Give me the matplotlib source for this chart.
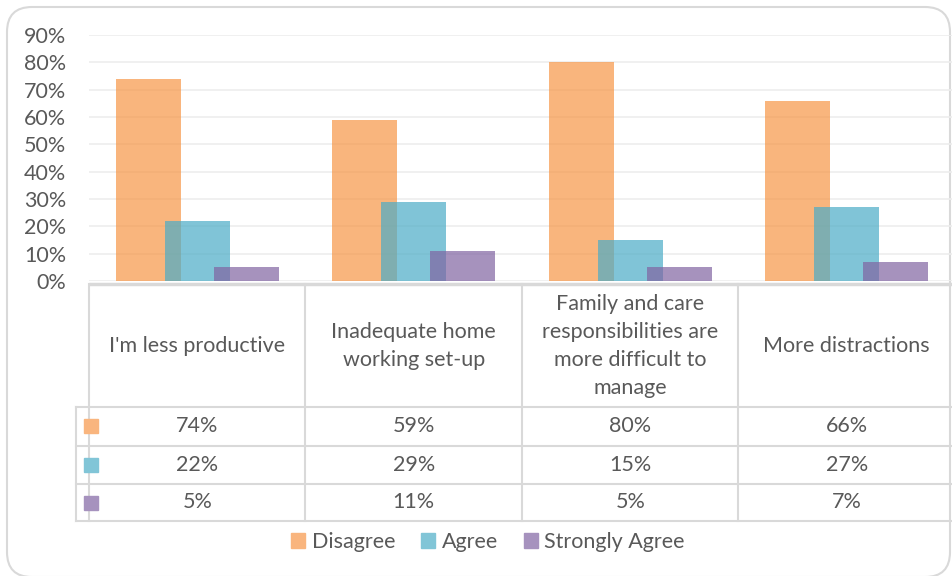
import matplotlib.pyplot as plt
from matplotlib.patches import FancyBboxPatch, Rectangle
import numpy as np

categories = ["I'm less productive", "Inadequate home\nworking set-up",
              "Family and care\nresponsibilities are\nmore difficult to\nmanage",
              "More distractions"]
series = ["Disagree", "Agree", "Strongly Agree"]
disagree = [0.74, 0.59, 0.80, 0.66]
agree = [0.22, 0.29, 0.15, 0.27]
strongly_agree = [0.05, 0.11, 0.05, 0.07]
values = [disagree, agree, strongly_agree]
colors = ["#F79646", "#4BACC6", "#8064A2"]
key_colors = ["#F9B57E", "#81C5D7", "#A692BE"]
yticks = np.arange(0, 1.0, 0.1)

plt.rcParams['font.family'] = ['Lato', 'DejaVu Sans']
text_color = "#595959"
line_color = "#D9D9D9"
fs = 15.5

W, H = 953, 576
fig = plt.figure(figsize=(W / 100, H / 100), dpi=100)

# overlay in pixel coords for the table and border
ov = fig.add_axes([0, 0, 1, 1])
ov.set_xlim(0, W)
ov.set_ylim(H, 0)
ov.axis("off")

# plot area: 0% at y=281, 90% at y=35, x from 89 to 955
left, right, top, bottom = 89, 955, 35, 281
ax = fig.add_axes([left / W, (H - bottom) / H, (right - left) / W, (bottom - top) / H])
ax.set_xlim(0, 4)
ax.set_ylim(0, 0.9)
ax.set_facecolor("none")

x = np.arange(len(categories)) + 0.5
bw = 65 / 216.5
offset = 49 / 216.5
for i, (name, vals) in enumerate(zip(series, values)):
    ax.bar(x + (i - 1) * offset, vals, width=bw, color=colors[i], alpha=0.7,
           label=name, zorder=3 + i)

ax.set_yticks(yticks)
ax.set_yticklabels([f"{int(round(t * 100))}%" for t in yticks], fontsize=fs, color=text_color)
ax.tick_params(axis="y", length=0, pad=16.5)
ax.tick_params(axis="x", length=0, labelbottom=False)
ax.grid(axis="y", color="#EDEDED", lw=1.2, zorder=0)
for s in ["top", "right", "left", "bottom"]:
    ax.spines[s].set_visible(False)

# table grid
col_edges = [89, 305.5, 522, 738.5, 955]
row_edges = [284, 407, 445.5, 484, 521]
ov.plot([89, W], [row_edges[0]] * 2, color=line_color, lw=2.5, solid_capstyle="butt")
for yy in row_edges[1:]:
    ov.plot([76, W], [yy, yy], color=line_color, lw=1.5)
ov.plot([76, 76], [row_edges[1], row_edges[-1]], color=line_color, lw=1.5)
for xx in col_edges[:-1]:
    ov.plot([xx, xx], [row_edges[0], row_edges[-1]], color=line_color, lw=1.5)

for j, cat in enumerate(categories):
    cx = (col_edges[j] + col_edges[j + 1]) / 2
    ov.text(cx, (row_edges[0] + row_edges[1]) / 2, cat, ha="center", va="center",
            fontsize=fs, color=text_color, linespacing=1.5)
    for i, vals in enumerate(values):
        cy = (row_edges[i + 1] + row_edges[i + 2]) / 2
        ov.text(cx, cy, f"{int(round(vals[j] * 100))}%", ha="center", va="center",
                fontsize=fs, color=text_color)

for i in range(len(series)):
    cy = (row_edges[i + 1] + row_edges[i + 2]) / 2
    ov.add_patch(Rectangle((84, cy - 7), 14, 14, color=key_colors[i], zorder=5))

# legend
handles = [Rectangle((0, 0), 1, 1, color=c) for c in key_colors]
fig.legend(handles, series, loc="center", bbox_to_anchor=(488 / W, 1 - 542 / H), ncol=3,
           frameon=False, fontsize=fs, labelcolor=text_color, handlelength=0.65,
           handleheight=0.65, handletextpad=0.3, columnspacing=1.2)

# rounded outer border
ov.add_patch(FancyBboxPatch((7, 7), 943, 570, boxstyle="round,pad=0,rounding_size=25",
                            fill=False, edgecolor=line_color, lw=1.5))

fig.savefig("out.png", dpi=100)
